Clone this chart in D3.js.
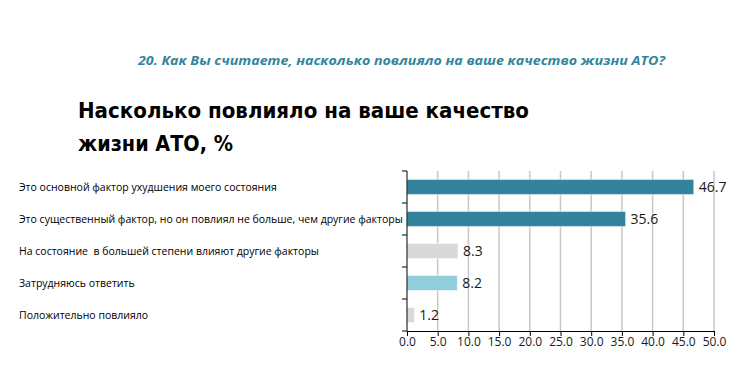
<!DOCTYPE html>
<html><head><meta charset="utf-8">
<script src="https://cdn.jsdelivr.net/npm/d3@7"></script>
<style>html,body{margin:0;padding:0;background:#fff;}svg{display:block;}text{white-space:pre;}</style>
</head><body>
<svg id="chart" width="753" height="373"></svg>
<script>
const subtitle = "20. Как Вы считаете, насколько повлияло на ваше качество жизни АТО?";
const titleLines = ["Насколько повлияло на ваше качество", "жизни АТО, %"];
const categories = [
  "Это основной фактор ухудшения моего состояния",
  "Это существенный фактор, но он повлиял не больше, чем другие факторы",
  "На состояние  в большей степени влияют другие факторы",
  "Затрудняюсь ответить",
  "Положительно повлияло"
];
const values = [46.7, 35.6, 8.3, 8.2, 1.2];
const barColors = ["#31849B", "#31849B", "#D9D9D9", "#92CDDC", "#D9D9D9"];
const xTicks = [0, 5, 10, 15, 20, 25, 30, 35, 40, 45, 50];

const svg = d3.select("#chart");
const FONT = "'DejaVu Sans Condensed','Liberation Sans',sans-serif";
const FONT2 = "'Open Sans','Liberation Sans',sans-serif";

const x = d3.scaleLinear().domain([0, 50]).range([407, 714]);
const y = d3.scaleBand().domain(categories).range([171, 331]).paddingInner(0.53).paddingOuter(0.265);

// subtitle
svg.append("text").attr("x", 138).attr("y", 65)
  .attr("font-family", FONT2).attr("font-size", 13).attr("font-weight", "bold").attr("font-style", "italic")
  .attr("fill", "#31859C").attr("textLength", 527).attr("lengthAdjust", "spacingAndGlyphs").text(subtitle);

// title
const titleWidths = [451, 155];
svg.selectAll("text.title").data(titleLines).join("text").attr("class", "title")
  .attr("x", 78).attr("y", (d, i) => 118 + i * 33)
  .attr("font-family", FONT).attr("font-size", 21).attr("font-weight", "bold").attr("fill", "#000")
  .attr("textLength", (d, i) => titleWidths[i]).attr("lengthAdjust", "spacingAndGlyphs")
  .text(d => d);

// gridlines
svg.append("g").selectAll("line").data(xTicks.filter(t => t > 0)).join("line")
  .attr("x1", d => x(d)).attr("x2", d => x(d)).attr("y1", 171).attr("y2", 331)
  .attr("stroke", "#C8C8C8").attr("stroke-width", 1.5);

// bars
svg.append("g").selectAll("rect").data(values).join("rect")
  .attr("x", x(0)).attr("y", (d, i) => y(categories[i]))
  .attr("width", d => x(d) - x(0)).attr("height", y.bandwidth())
  .attr("fill", (d, i) => barColors[i]).attr("stroke", "#ffffff").attr("stroke-opacity", 0.5).attr("stroke-width", 1);

// value labels
svg.append("g").selectAll("text").data(values).join("text")
  .attr("x", d => x(d) + 5).attr("y", (d, i) => y(categories[i]) + y.bandwidth() / 2)
  .attr("dy", "0.35em").attr("font-family", FONT2).attr("font-size", 14).attr("fill", "#1a1a1a")
  .text(d => d3.format(".1f")(d));

// category labels
svg.append("g").selectAll("text").data(categories).join("text")
  .attr("x", 19).attr("y", d => y(d) + y.bandwidth() / 2).attr("dy", "0.35em")
  .attr("font-family", FONT2).attr("font-size", 10.5).attr("fill", "#000")
  .text(d => d);

// x axis
const xAxis = svg.append("g").attr("transform", "translate(0,331)")
  .call(d3.axisBottom(x).tickValues(xTicks).tickSize(5).tickSizeOuter(0).tickFormat(d3.format(".1f")));
xAxis.select(".domain").attr("stroke", "#000");
xAxis.selectAll(".tick line").attr("stroke", "#000");
xAxis.selectAll(".tick text").attr("font-family", FONT2).attr("font-size", 12).attr("fill", "#1a1a1a").attr("y", 6);

// y axis line and boundary ticks
const step = y.step();
const bounds = categories.map(c => y(c) + y.bandwidth() / 2 - step / 2).concat([y(categories[categories.length - 1]) + y.bandwidth() / 2 + step / 2]);
svg.append("line").attr("x1", x(0)).attr("x2", x(0)).attr("y1", 171).attr("y2", 331).attr("stroke", "#000");
svg.append("g").selectAll("line").data(bounds).join("line")
  .attr("x1", x(0) - 5).attr("x2", x(0)).attr("y1", d => d).attr("y2", d => d).attr("stroke", "#000");
</script>
</body></html>
